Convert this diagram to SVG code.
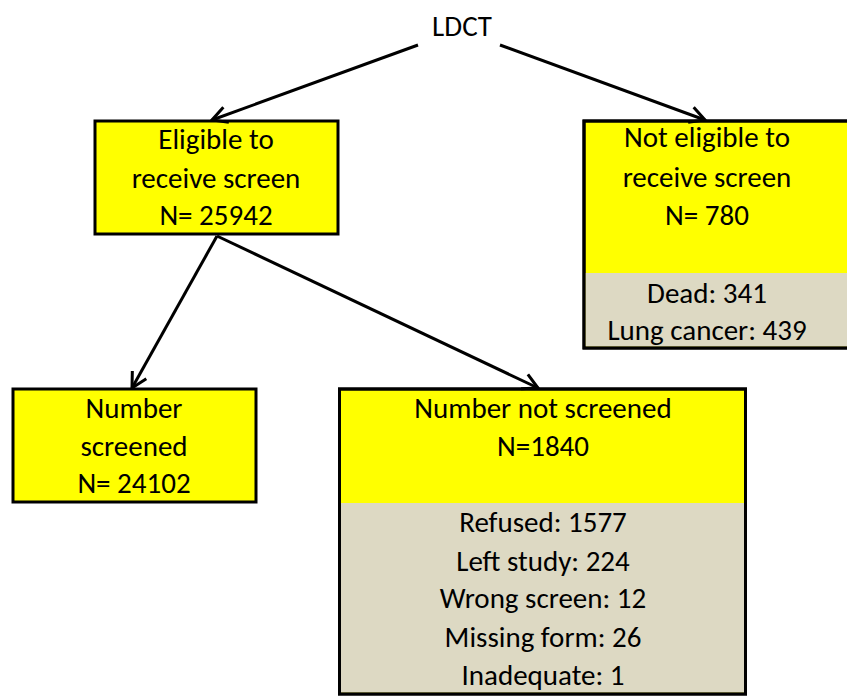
<svg xmlns="http://www.w3.org/2000/svg" width="847" height="699" viewBox="0 0 847 699">
<defs>
<style>
text{font-family:Carlito,Lato,"Liberation Sans",sans-serif;font-size:29px;fill:#000;text-anchor:middle}
.box{stroke:#000;stroke-width:3;fill:#FFFF00}
.gray{fill:#DDD9C3;stroke:none}
.frame{fill:none;stroke:#000;stroke-width:3}
.conn{stroke:#000;stroke-width:3;fill:none;marker-end:url(#arr)}
</style>
<marker id="arr" viewBox="0 0 20 20" refX="18" refY="10" markerWidth="20" markerHeight="20" markerUnits="userSpaceOnUse" orient="auto">
<path d="M3,2 L18,10 L3,18" fill="none" stroke="#000" stroke-width="3"/>
</marker>
</defs>
<g id="ldct"><text x="462" y="36">LDCT</text></g>
<g id="eligible">
<rect class="box" x="95" y="121" width="243" height="113"/>
<text x="216" y="149">Eligible to</text>
<text x="216" y="188">receive screen</text>
<text x="216" y="225">N= 25942</text>
</g>
<g id="not-eligible">
<rect class="box" x="584" y="121" width="280" height="227"/>
<rect class="gray" x="585.5" y="273" width="280" height="73.5"/>
<rect class="frame" x="584" y="121" width="280" height="227"/>
<text x="707" y="147">Not eligible to</text>
<text x="707" y="187">receive screen</text>
<text x="707" y="225">N= 780</text>
<text x="707" y="303">Dead: 341</text>
<text x="707" y="340">Lung cancer: 439</text>
</g>
<g id="screened">
<rect class="box" x="13" y="389" width="243" height="113"/>
<text x="134" y="418">Number</text>
<text x="134" y="456">screened</text>
<text x="134" y="493">N= 24102</text>
</g>
<g id="not-screened">
<rect class="box" x="339.5" y="389" width="406" height="305"/>
<rect class="gray" x="341" y="503" width="403" height="189.5"/>
<rect class="frame" x="339.5" y="389" width="406" height="305"/>
<text x="543" y="418">Number not screened</text>
<text x="543" y="456">N=1840</text>
<text x="543" y="532">Refused: 1577</text>
<text x="543" y="571">Left study: 224</text>
<text x="543" y="608">Wrong screen: 12</text>
<text x="543" y="647">Missing form: 26</text>
<text x="543" y="685">Inadequate: 1</text>
</g>
<g id="connectors">
<line class="conn" x1="418" y1="45" x2="212" y2="120"/>
<line class="conn" x1="500" y1="45" x2="705" y2="120"/>
<line class="conn" x1="217" y1="236" x2="132" y2="388"/>
<line class="conn" x1="217" y1="236" x2="538" y2="388"/>
</g>
</svg>
